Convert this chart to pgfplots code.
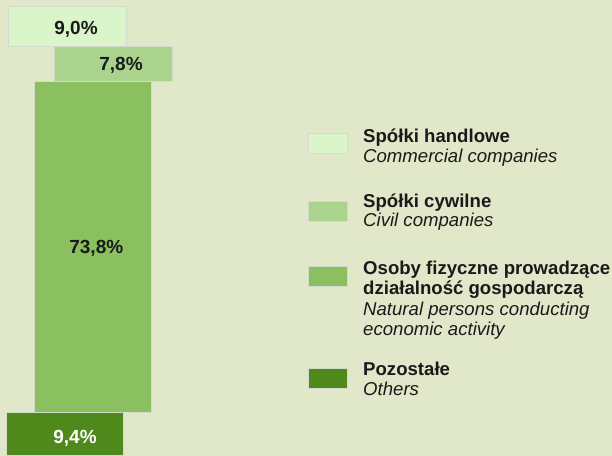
\documentclass[border=0pt]{standalone}
\usepackage{pgfplots}
\pgfplotsset{compat=1.18}
\usepackage{fontspec}
\setmainfont{Liberation Sans}
\definecolor{bgc}{RGB}{225,232,201}
\definecolor{cA}{RGB}{218,245,201}
\definecolor{cB}{RGB}{170,212,142}
\definecolor{cC}{RGB}{138,192,96}
\definecolor{cD}{RGB}{79,137,27}
\definecolor{bord}{RGB}{212,218,204}
\definecolor{txt}{RGB}{26,26,26}
\begin{document}
\begin{tikzpicture}
\fill[bgc] (0bp,0bp) rectangle (612bp,456bp);
\begin{axis}[at={(0bp,0bp)}, anchor=south west, scale only axis,
  width=612bp, height=456bp, xmin=0, xmax=612, ymin=-0.22, ymax=101.34,
  hide axis, clip=false, ybar stacked, bar width=117.5]
\addplot[fill=cD, draw=bord, line width=1bp, bar shift=65] coordinates {(0,9.4)};
\addplot[fill=cC, draw=bord, line width=1bp, bar shift=93.1] coordinates {(0,73.8)};
\addplot[fill=cB, draw=bord, line width=1bp, bar shift=113.3] coordinates {(0,7.8)};
\addplot[fill=cA, draw=bord, line width=1bp, bar shift=67.3] coordinates {(0,9.0)};
\end{axis}
\begin{scope}[x=1bp,y=1bp,font=\fontsize{18.6bp}{20.5bp}\selectfont]
% bar labels
\node[anchor=base, inner sep=0pt, text=txt, font=\fontsize{19bp}{21bp}\selectfont\bfseries] at (76,456-35) {9,0\%};
\node[anchor=base, inner sep=0pt, text=txt, font=\fontsize{19bp}{21bp}\selectfont\bfseries] at (121,456-70.7) {7,8\%};
\node[anchor=base, inner sep=0pt, text=txt, font=\fontsize{19bp}{21bp}\selectfont\bfseries] at (96.3,456-253.3) {73,8\%};
\node[anchor=base, inner sep=0pt, text=white, font=\fontsize{19bp}{21bp}\selectfont\bfseries] at (75,456-443.3) {9,4\%};
% legend swatches
\filldraw[fill=cA, draw=bord, line width=0.8bp] (308,456-133.3) rectangle (347.5,456-153.3);
\filldraw[fill=cB, draw=bord, line width=0.8bp] (308,456-201) rectangle (347.5,456-221);
\filldraw[fill=cC, draw=bord, line width=0.8bp] (308,456-266.5) rectangle (347.5,456-286);
\filldraw[fill=cD, draw=bord, line width=0.8bp] (308,456-368.7) rectangle (347.5,456-388);
% legend text
\node[anchor=base west, inner sep=0pt, text=txt] at (363,456-142.7) {\bfseries Spółki handlowe};
\node[anchor=base west, inner sep=0pt, text=txt] at (363,456-162.7) {\itshape Commercial companies};
\node[anchor=base west, inner sep=0pt, text=txt] at (363,456-207.7) {\bfseries Spółki cywilne};
\node[anchor=base west, inner sep=0pt, text=txt] at (363,456-226.7) {\itshape Civil companies};
\node[anchor=base west, inner sep=0pt, text=txt] at (363,456-274.3) {\bfseries Osoby fizyczne prowadzące};
\node[anchor=base west, inner sep=0pt, text=txt] at (363,456-294.5) {\bfseries działalność gospodarczą};
\node[anchor=base west, inner sep=0pt, text=txt] at (363,456-315.5) {\itshape Natural persons conducting};
\node[anchor=base west, inner sep=0pt, text=txt] at (363,456-335) {\itshape economic activity};
\node[anchor=base west, inner sep=0pt, text=txt] at (363,456-375.7) {\bfseries Pozostałe};
\node[anchor=base west, inner sep=0pt, text=txt] at (363,456-395.7) {\itshape Others};
\end{scope}
\end{tikzpicture}
\end{document}
